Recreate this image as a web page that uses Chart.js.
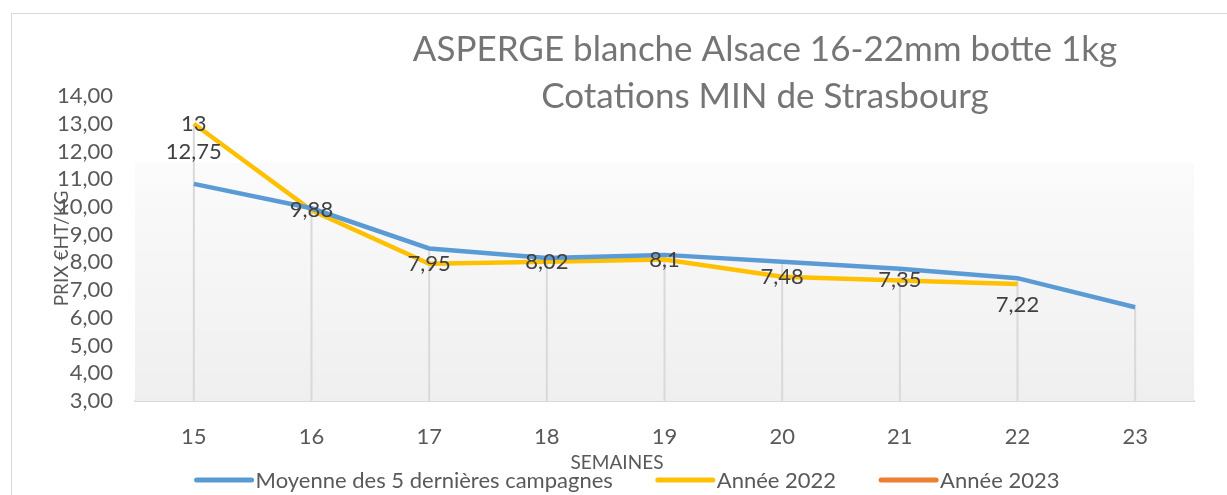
<!DOCTYPE html>
<html>
<head>
<meta charset="utf-8">
<script src="https://cdn.jsdelivr.net/npm/chart.js@4"></script>
<style>
  body { margin: 0; background: #fff; }
  .wrap { position: relative; width: 1227px; height: 495px; overflow: hidden; }
  .frame { position: absolute; left: 11px; top: 13px; width: 1300px; height: 600px; border: 1px solid #d9d9d9; pointer-events: none; }
</style>
</head>
<body>
<div class="wrap">
  <canvas id="myCanvas" width="1227" height="495"></canvas>
  <div class="frame"></div>
</div>
<script>
Chart.defaults.font.family = "Lato, sans-serif";

// data
const weeks = ["15", "16", "17", "18", "19", "20", "21", "22", "23"];
const moyenne = [10.83, 9.95, 8.5, 8.16, 8.27, 8.02, 7.77, 7.43, 6.38];
const annee2022 = [13, 9.88, 7.95, 8.02, 8.1, 7.48, 7.35, 7.22, null];
const annee2023 = [12.75, null, null, null, null, null, null, null, null];
const seriesNames = ["Moyenne des 5 dernières campagnes", "Année 2022", "Année 2023"];
const seriesColors = ["#5b9bd5", "#ffc000", "#ed7d31"];
const titleLines = ["ASPERGE blanche Alsace 16-22mm botte 1kg", "Cotations MIN de Strasbourg"];

const commaNum = (v) => String(v).replace(".", ",");

const excelPlugin = {
  id: "excelPlugin",
  beforeDatasetsDraw(chart) {
    const { ctx, chartArea } = chart;
    const top = chartArea.top + (chartArea.bottom - chartArea.top) * 0.22;
    const grad = ctx.createLinearGradient(0, top, 0, chartArea.bottom);
    grad.addColorStop(0, "#fbfbfb");
    grad.addColorStop(1, "#efefef");
    ctx.save();
    ctx.fillStyle = grad;
    ctx.fillRect(chartArea.left, top, chartArea.right - chartArea.left, chartArea.bottom - top);

    // drop lines from the highest point of each week
    ctx.strokeStyle = "#d9d9d9";
    ctx.lineWidth = 2;
    weeks.forEach((w, i) => {
      let minY = null;
      let x = null;
      chart.data.datasets.forEach((ds, d) => {
        if (ds.data[i] === null) return;
        const pt = chart.getDatasetMeta(d).data[i];
        x = pt.x;
        if (minY === null || pt.y < minY) minY = pt.y;
      });
      if (minY === null) return;
      ctx.beginPath();
      ctx.moveTo(x, minY);
      ctx.lineTo(x, chartArea.bottom);
      ctx.stroke();
    });
    ctx.restore();
  },
  afterDatasetsDraw(chart) {
    const { ctx } = chart;
    ctx.save();
    ctx.font = "22px Lato";
    ctx.fillStyle = "#404040";
    ctx.textAlign = "center";
    ctx.textBaseline = "middle";
    chart.data.datasets.forEach((ds, d) => {
      if (!ds.showLabels) return;
      const meta = chart.getDatasetMeta(d);
      ds.data.forEach((v, i) => {
        if (v === null) return;
        const pt = meta.data[i];
        const dy = ds.labelBelow.includes(i) ? 21 : 0;
        ctx.fillText(commaNum(v), pt.x, pt.y + dy);
      });
    });
    ctx.restore();
  },
  afterDraw(chart) {
    const { ctx } = chart;
    ctx.save();
    ctx.textAlign = "center";
    ctx.textBaseline = "middle";
    ctx.fillStyle = "#757575";
    ctx.font = "35px Lato";
    ctx.fillText(titleLines[0], 765, 50);
    ctx.fillText(titleLines[1], 765, 97);

    ctx.fillStyle = "#595959";
    ctx.font = "19px Lato";
    ctx.fillText("SEMAINES", 617, 463);

    // legend
    ctx.font = "22px Lato";
    const lineLen = 55;
    const gapText = 4;
    const gapItem = 45;
    let total = 0;
    seriesNames.forEach((n) => (total += lineLen + gapText + ctx.measureText(n).width));
    total += gapItem * (seriesNames.length - 1);
    let x = 628 - total / 2;
    const y = 480;
    ctx.textAlign = "left";
    seriesNames.forEach((n, i) => {
      ctx.strokeStyle = seriesColors[i];
      ctx.lineWidth = 5;
      ctx.lineCap = "round";
      ctx.beginPath();
      ctx.moveTo(x, y);
      ctx.lineTo(x + lineLen, y);
      ctx.stroke();
      x += lineLen + gapText;
      ctx.fillText(n, x, y + 1);
      x += ctx.measureText(n).width + gapItem;
    });
    ctx.restore();
  },
};

new Chart(document.getElementById("myCanvas"), {
  type: "line",
  data: {
    labels: weeks,
    datasets: [
      {
        label: seriesNames[0],
        data: moyenne,
        borderColor: seriesColors[0],
        backgroundColor: seriesColors[0],
        borderWidth: 4.5,
        pointRadius: 0,
        showLabels: false,
        labelBelow: [],
      },
      {
        label: seriesNames[1],
        data: annee2022,
        borderColor: seriesColors[1],
        backgroundColor: seriesColors[1],
        borderWidth: 4.5,
        pointRadius: 0,
        showLabels: true,
        labelBelow: [7],
      },
      {
        label: seriesNames[2],
        data: annee2023,
        borderColor: seriesColors[2],
        backgroundColor: seriesColors[2],
        borderWidth: 4.5,
        pointRadius: 0,
        showLabels: true,
        labelBelow: [0],
      },
    ],
  },
  options: {
    responsive: false,
    animation: false,
    devicePixelRatio: 1,
    layout: { padding: { top: 96, right: 33, bottom: 0, left: 0 } },
    plugins: {
      legend: { display: false },
      title: { display: false },
      tooltip: { enabled: false },
    },
    scales: {
      x: {
        offset: true,
        grid: { color: "transparent", drawTicks: false },
        border: { color: "#d9d9d9", width: 2 },
        ticks: { color: "#595959", font: { size: 22 }, padding: 23 },
        afterFit(scale) {
          scale.height = 94;
        },
      },
      y: {
        min: 3,
        max: 14,
        grid: { display: false, drawTicks: false },
        border: { display: false },
        ticks: {
          stepSize: 1,
          autoSkip: false,
          color: "#595959",
          font: { size: 22 },
          padding: 22,
          callback: (v) => v.toFixed(2).replace(".", ","),
        },
        title: {
          display: true,
          text: "PRIX €HT/KG",
          color: "#595959",
          font: { size: 19 },
          padding: { top: 50, bottom: 0 },
        },
        afterFit(scale) {
          scale.width = 135;
        },
      },
    },
  },
  plugins: [excelPlugin],
});
</script>
</body>
</html>
